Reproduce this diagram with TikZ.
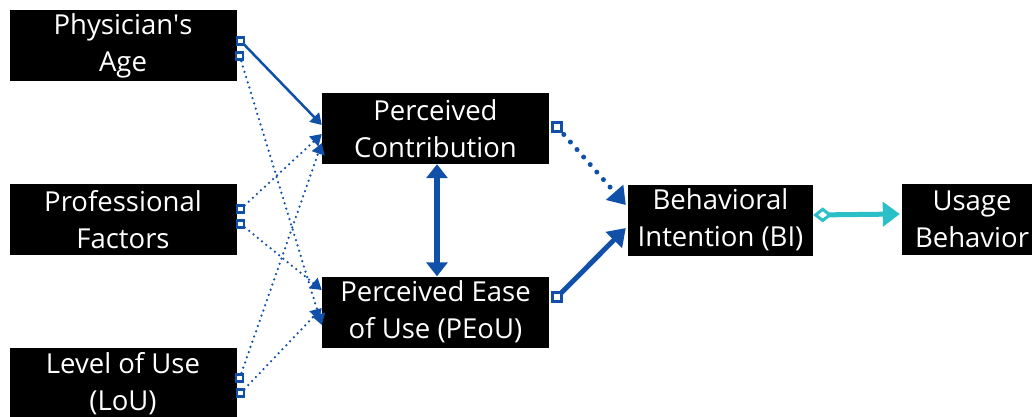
\documentclass[tikz,border=0pt]{standalone}
\usepackage{fontspec}
\setmainfont{Open Sans}
\usetikzlibrary{arrows.meta}
\definecolor{b1}{HTML}{1150A8}
\definecolor{c1}{HTML}{2BBFC7}
\newcommand{\boxW}{227}
\newcommand{\boxH}{71}
\newcommand{\txtSize}{\fontsize{27.5}{37}\selectfont}

\tikzset{
	factor/.style={fill=black, text=white, minimum width=\boxW pt, minimum height=\boxH pt, inner sep=0pt, align=center, font=\txtSize},
	sqmark/.style={draw=b1, fill=white, solid, line width=2.2pt, minimum size=7pt, inner sep=0pt},
	bigsq/.style={sqmark, line width=3pt, minimum size=8.5pt},
	link/.style={b1, line width=2.5pt, -{Triangle[width=13pt, length=11pt]}},
	dotlink/.style={link, dash pattern=on 0pt off 5.5pt, line cap=round},
	biglink/.style={b1, line width=5pt, -{Triangle[width=22pt, length=17pt]}},
	bigdot/.style={biglink, dash pattern=on 0pt off 10pt, line cap=round},
}

\begin{document}
\begin{tikzpicture}[x=1pt, y=-1pt]
	\clip (0,0) rectangle (1032,416);
	% factors
	\node[factor] (age) at (123,45.5) {Physician\textquotesingle s\\Age};
	\node[factor] (prof) at (123,219.5) {Professional\\Factors};
	\node[factor] (lou) at (123,383.5) {Level of Use\\(LoU)};
	% perceptions
	\node[factor] (pc) at (435.5,128.5) {Perceived\\Contribution};
	\node[factor] (peou) at (435.5,312) {Perceived Ease\\of Use (PEoU)};
	% outcome
	\node[factor, minimum width=185pt] (bi) at (720.5,220) {Behavioral\\Intention (BI)};
	\node[factor, minimum width=140pt] (ub) at (972,219) {Usage\\Behavior};

	\draw[link] ([xshift=4pt, yshift=4.5pt]age.east) -- node[at start, sqmark] {} ([yshift=3.5pt]pc.west);
	\draw[dotlink] ([xshift=3pt, yshift=-10.5pt]age.east) -- node[at start, sqmark] {} ([yshift=-13pt]peou.west);
	\draw[dotlink] ([xshift=4pt, yshift=10.5pt]prof.east) -- node[at start, sqmark] {} ([yshift=-5.5pt]pc.west);
	\draw[dotlink] ([xshift=4pt, yshift=-4.5pt]prof.east) -- node[at start, sqmark] {} ([yshift=22pt]peou.west);
	\draw[dotlink] ([xshift=3pt, yshift=5.5pt]lou.east) -- node[at start, sqmark] {} ([yshift=-14.5pt]pc.west);
	\draw[dotlink] ([xshift=4pt, yshift=-9.5pt]lou.east) -- node[at start, sqmark] {} ([yshift=4pt]peou.west);

	\draw[b1, line width=6pt, {Triangle[width=21pt, length=14pt]}-{Triangle[width=21pt, length=14pt]}] ([xshift=1.5pt]pc.south) -- ([xshift=1.5pt]peou.north);

	\draw[bigdot] ([xshift=8pt, yshift=1.5pt]pc.east) -- node[at start, bigsq] {} ([yshift=15pt, xshift=-2pt]bi.west);
	\draw[biglink] ([xshift=8pt, yshift=15pt]peou.east) -- node[at start, bigsq] {} ([yshift=-8pt, xshift=-2pt]bi.west);

	\draw[c1, line width=5pt, {Diamond[open, length=19pt, width=15pt, line width=3pt]}-{Triangle[width=24pt, length=17pt]}] ([yshift=5pt]bi.east) -- ([yshift=5pt, xshift=-2pt]ub.west);
\end{tikzpicture}
\end{document}
